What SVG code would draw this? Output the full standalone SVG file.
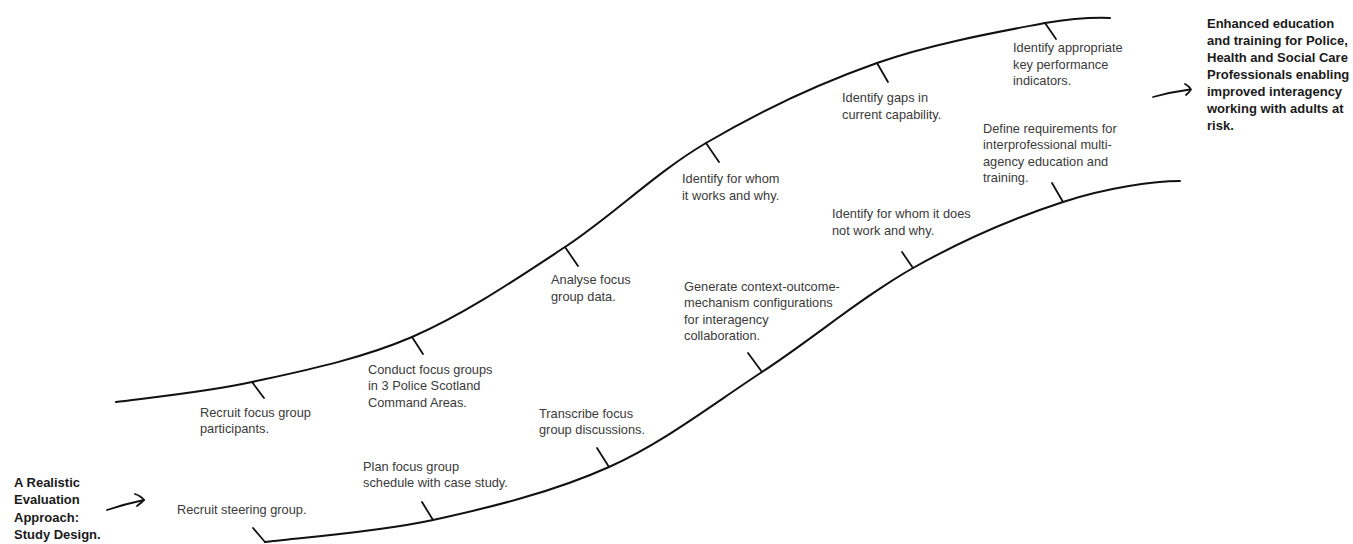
<svg xmlns="http://www.w3.org/2000/svg" width="1353" height="544" viewBox="0 0 1353 544">
<style>
.curve{fill:none;stroke:#111;stroke-width:2;stroke-linecap:round}
.tick{fill:none;stroke:#111;stroke-width:1.8;stroke-linecap:round}
.arr{fill:none;stroke:#111;stroke-width:1.8;stroke-linecap:round;stroke-linejoin:round}
.lbl{font-family:"Liberation Sans",Arial,sans-serif;font-size:12.8px;fill:#3a3a3a}
.bold{font-family:"Liberation Sans",Arial,sans-serif;font-size:13px;font-weight:bold;fill:#1a1a1a}
</style>
<rect width="1353" height="544" fill="#fff"/>
<g id="connectors">
<path class="curve" d="M116,402 C138.7,398.7 202.7,392.8 252,382 C301.3,371.2 359.8,359.5 412,337 C464.2,314.5 516,279.3 565,247 C614,214.7 654,173.7 706,143 C758,112.3 820.5,83 877,63 C933.5,43 1006.2,30.5 1045,23 C1075,18 1095,17.5 1110,18"/>
<path class="curve" d="M265,542 C293,538.3 375.7,532.5 433,520 C490.3,507.5 554.2,491.7 609,467 C663.8,442.3 711.3,405.2 762,372 C812.7,338.8 862.8,296.3 913,268 C963.2,239.7 1018.5,216.5 1063,202 C1107.5,187.5 1155,181 1180,181"/>
<path class="arr" d="M107,510 Q125,504 144,500"/>
<path class="arr" d="M135,494 Q141,496 144,500 Q141,503 137,506"/>
<path class="arr" d="M1153,97 Q1171,92 1190,89.5"/>
<path class="arr" d="M1185,84 Q1189,86 1191,89.5 Q1189,92.5 1186,95"/>
</g>
<g id="start">
<text class="bold" x="14" y="486.5">A Realistic</text>
<text class="bold" x="14" y="504">Evaluation</text>
<text class="bold" x="14" y="521.5">Approach:</text>
<text class="bold" x="14" y="539">Study Design.</text>
</g>
<g id="outcome">
<text class="bold" x="1207" y="28">Enhanced education</text>
<text class="bold" x="1207" y="45">and training for Police,</text>
<text class="bold" x="1207" y="62">Health and Social Care</text>
<text class="bold" x="1207" y="79">Professionals enabling</text>
<text class="bold" x="1207" y="96">improved interagency</text>
<text class="bold" x="1207" y="113">working with adults at</text>
<text class="bold" x="1207" y="130">risk.</text>
</g>
<g id="step-recruit-steering">
<line class="tick" x1="253" y1="528" x2="265" y2="542"/>
<text class="lbl" x="177" y="514">Recruit steering group.</text>
</g>
<g id="step-recruit-participants">
<line class="tick" x1="252" y1="382" x2="264" y2="398"/>
<text class="lbl" x="200" y="416.5">Recruit focus group</text>
<text class="lbl" x="200" y="433">participants.</text>
</g>
<g id="step-plan">
<line class="tick" x1="422" y1="502" x2="433" y2="520"/>
<text class="lbl" x="363" y="470.5">Plan focus group</text>
<text class="lbl" x="363" y="487">schedule with case study.</text>
</g>
<g id="step-conduct">
<line class="tick" x1="412" y1="337" x2="423" y2="354"/>
<text class="lbl" x="368" y="373.5">Conduct focus groups</text>
<text class="lbl" x="368" y="390">in 3 Police Scotland</text>
<text class="lbl" x="368" y="406.5">Command Areas.</text>
</g>
<g id="step-transcribe">
<line class="tick" x1="597" y1="448" x2="609" y2="467"/>
<text class="lbl" x="539" y="417.5">Transcribe focus</text>
<text class="lbl" x="539" y="434">group discussions.</text>
</g>
<g id="step-analyse">
<line class="tick" x1="565" y1="247" x2="578" y2="266"/>
<text class="lbl" x="551" y="284">Analyse focus</text>
<text class="lbl" x="551" y="300.5">group data.</text>
</g>
<g id="step-generate">
<line class="tick" x1="748" y1="353" x2="762" y2="372"/>
<text class="lbl" x="684" y="290.5">Generate context-outcome-</text>
<text class="lbl" x="684" y="307">mechanism configurations</text>
<text class="lbl" x="684" y="323.5">for interagency</text>
<text class="lbl" x="684" y="340">collaboration.</text>
</g>
<g id="step-works">
<line class="tick" x1="706" y1="143" x2="719" y2="162"/>
<text class="lbl" x="682" y="183">Identify for whom</text>
<text class="lbl" x="682" y="199.5">it works and why.</text>
</g>
<g id="step-not-works">
<line class="tick" x1="902" y1="252" x2="913" y2="268"/>
<text class="lbl" x="832" y="218">Identify for whom it does</text>
<text class="lbl" x="832" y="234.5">not work and why.</text>
</g>
<g id="step-gaps">
<line class="tick" x1="877" y1="63" x2="888" y2="82"/>
<text class="lbl" x="842" y="102">Identify gaps in</text>
<text class="lbl" x="842" y="118.5">current capability.</text>
</g>
<g id="step-define">
<line class="tick" x1="1052" y1="183" x2="1063" y2="202"/>
<text class="lbl" x="983" y="132.5">Define requirements for</text>
<text class="lbl" x="983" y="149">interprofessional multi-</text>
<text class="lbl" x="983" y="165.5">agency education and</text>
<text class="lbl" x="983" y="182">training.</text>
</g>
<g id="step-kpi">
<line class="tick" x1="1045" y1="23" x2="1056" y2="39"/>
<text class="lbl" x="1013" y="52">Identify appropriate</text>
<text class="lbl" x="1013" y="68.5">key performance</text>
<text class="lbl" x="1013" y="85">indicators.</text>
</g>
</svg>
